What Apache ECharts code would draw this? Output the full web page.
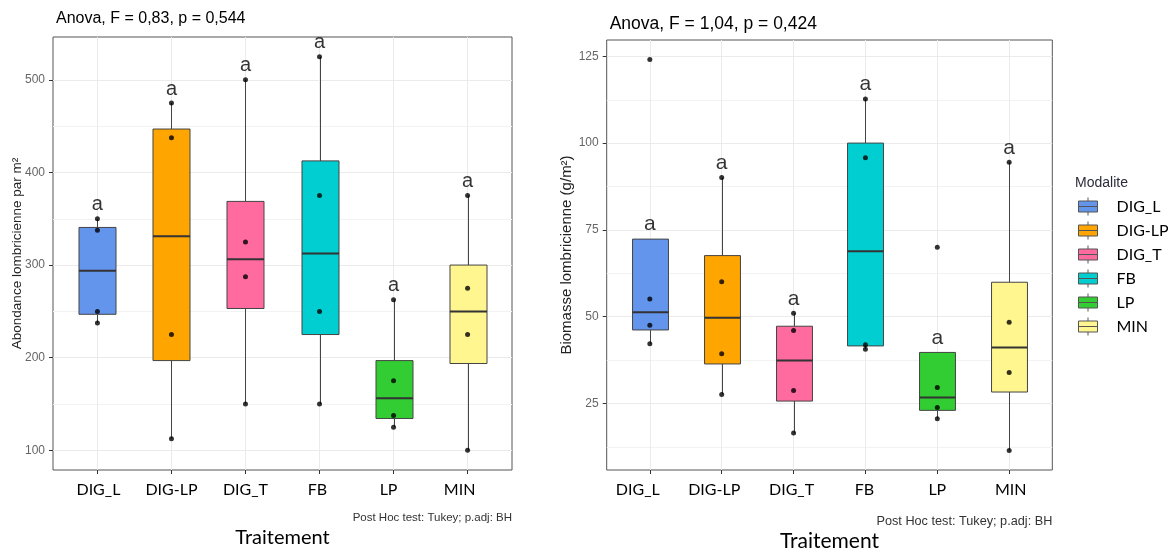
<!DOCTYPE html>
<html><head><meta charset="utf-8">
<script src="https://cdn.jsdelivr.net/npm/echarts@6/dist/echarts.min.js"></script>
<style>html,body{margin:0;padding:0;background:#fff}#c{width:1168px;height:548px}</style>
</head><body><div id="c"></div>
<script>
// ---------------- DATA ----------------
const categories = ['DIG_L', 'DIG-LP', 'DIG_T', 'FB', 'LP', 'MIN'];
const boxColors = ['#6495ED', '#FFA500', '#FF6A9F', '#00CED1', '#32CD32', '#FFF68F'];

const abondancePoints = [
  [350, 337.5, 250, 237.5],
  [475, 437.5, 225, 112.5],
  [500, 325, 287.5, 150],
  [525, 375, 250, 150],
  [262.5, 175, 137.5, 125],
  [375, 275, 225, 100]
];
const biomassePoints = [
  [124.1, 55.1, 47.5, 42.2],
  [90.1, 60.1, 39.3, 27.6],
  [51.0, 46.0, 28.75, 16.45],
  [112.7, 95.8, 41.9, 40.6],
  [70.0, 29.6, 23.8, 20.6],
  [94.5, 48.4, 33.9, 11.45]
];
const abondanceLetters = ['a', 'a', 'a', 'a', 'a', 'a'];
const biomasseLetters = ['a', 'a', 'a', 'a', 'a', 'a'];
const abondanceTicks = [100, 200, 300, 400, 500];
const biomasseTicks = [25, 50, 75, 100, 125];

const titles = ['Anova, F = 0,83, p = 0,544', 'Anova, F = 1,04, p = 0,424'];
const yNames = ['Abondance lombricienne par m²', 'Biomasse lombricienne (g/m²)'];
const xName = 'Traitement';
const caption = 'Post Hoc test: Tukey; p.adj: BH';
const legendTitle = 'Modalite';

// ---------------- STATS (ggplot-like) ----------------
function q7(s, p) {
  const h = (s.length - 1) * p, lo = Math.floor(h);
  const hi = Math.min(lo + 1, s.length - 1);
  return s[lo] + (h - lo) * (s[hi] - s[lo]);
}
function boxStats(vals) {
  const s = vals.slice().sort((a, b) => a - b);
  const q1 = q7(s, 0.25), med = q7(s, 0.5), q3 = q7(s, 0.75);
  const iqr = q3 - q1;
  const inside = s.filter(v => v >= q1 - 1.5 * iqr && v <= q3 + 1.5 * iqr);
  const lo = Math.min(q1, ...inside), hi = Math.max(q3, ...inside);
  return [lo, q1, med, q3, hi];
}
function expandRange(groups) {
  const all = groups.flat();
  const mn = Math.min(...all), mx = Math.max(...all), r = mx - mn;
  return [mn - 0.05 * r, mx + 0.05 * r];
}

// ---------------- LAYOUT ----------------
const panels = [
  { left: 53, top: 37, width: 459, height: 433, points: abondancePoints, letters: abondanceLetters,
    ticks: abondanceTicks, tickStep: 100, title: titles[0], yName: yNames[0],
    titleSize: 16, titleTop: 11, yNameSize: 13.5, yNameGap: 29, letterSize: 20,
    capSize: 11.5, capTop: 512, xNameSize: 20, xNameGap: 58, labelShift: [1, 0, 0, -2, -5, -8] },
  { left: 606.7, top: 40, width: 445.6, height: 430, points: biomassePoints, letters: biomasseLetters,
    ticks: biomasseTicks, tickStep: 25, title: titles[1], yName: yNames[1],
    titleSize: 17.5, titleTop: 15.5, yNameSize: 15, yNameGap: 32, letterSize: 21,
    capSize: 12.7, capTop: 515, xNameSize: 21, xNameGap: 61, labelShift: [-12, -7.5, -2, -1, 0, 1.6] }
];

const grid = [], xAxis = [], yAxis = [], series = [], title = [];
const SANS = 'Liberation Sans, Arial, sans-serif';
const CAL = 'Lato, sans-serif';

panels.forEach((P, pi) => {
  const unit = P.width / 6.2;
  const innerLeft = P.left + 0.6 * unit;
  const innerWidth = 5 * unit;
  const bw = unit * 0.5;
  const [ymin, ymax] = expandRange(P.points);
  const gOuter = pi * 2, gInner = pi * 2 + 1;

  grid.push({ left: P.left, top: P.top, width: P.width, height: P.height, show: true,
    borderColor: '#555', borderWidth: 1, backgroundColor: '#fff', containLabel: false,
    outerBoundsMode: 'none' });
  grid.push({ left: innerLeft, top: P.top, width: innerWidth, height: P.height, containLabel: false,
    outerBoundsMode: 'none' });

  xAxis.push({ gridIndex: gOuter, type: 'value', min: 0, max: 1, show: false });
  const rich = {};
  P.labelShift.forEach((d, i) => {
    rich['o' + i] = { fontFamily: CAL, fontSize: 16, color: '#000',
      padding: d < 0 ? [0, -2 * d, 0, 0] : [0, 0, 0, 2 * d] };
  });
  xAxis.push({ gridIndex: gInner, type: 'category', data: categories, boundaryGap: false,
    axisLine: { show: false },
    axisTick: { show: true, length: 4, lineStyle: { color: '#333' } },
    splitLine: { show: true, lineStyle: { color: '#ebebeb', width: 1 } },
    axisLabel: { margin: 12, formatter: (v, i) => '{o' + i + '|' + v + '}', rich: rich,
      fontFamily: CAL, fontSize: 16, color: '#000', interval: 0 },
    name: xName, nameLocation: 'middle', nameGap: P.xNameGap, nameMoveOverlap: false,
    nameTextStyle: { fontFamily: CAL, fontSize: P.xNameSize, color: '#000' } });

  yAxis.push({ gridIndex: gOuter, type: 'value', min: ymin, max: ymax,
    minInterval: P.tickStep, maxInterval: P.tickStep,
    axisLine: { show: false },
    axisTick: { show: true, length: 4, customValues: P.ticks, lineStyle: { color: '#333' } },
    axisLabel: { margin: 8, fontFamily: SANS, fontSize: 12, color: '#666', customValues: P.ticks,
      formatter: v => (P.ticks.some(t => Math.abs(t - v) < 1e-6) ? String(v) : '') },
    splitLine: { show: true, lineStyle: { color: '#ebebeb', width: 1 } },
    minorTick: { show: false, splitNumber: 2 },
    minorSplitLine: { show: true, lineStyle: { color: '#f2f2f2', width: 1 } },
    name: P.yName, nameLocation: 'middle', nameGap: P.yNameGap, nameMoveOverlap: false,
    nameTextStyle: { fontFamily: SANS, fontSize: P.yNameSize, color: '#222' } });
  yAxis.push({ gridIndex: gInner, type: 'value', min: ymin, max: ymax, show: false,
    splitLine: { show: false } });

  const stats = P.points.map(boxStats);

  categories.forEach((c, i) => {
    series.push({
      name: c, type: 'custom', xAxisIndex: gInner, yAxisIndex: gInner, z: 2,
      itemStyle: { color: boxColors[i] },
      data: [[i].concat(stats[i])],
      renderItem: (params, api) => {
        const x = api.value(0);
        const lo = api.coord([x, api.value(1)]);
        const q1 = api.coord([x, api.value(2)]);
        const md = api.coord([x, api.value(3)]);
        const q3 = api.coord([x, api.value(4)]);
        const hi = api.coord([x, api.value(5)]);
        const cx = Math.round(q1[0]) + 0.5;
        const h = bw / 2;
        return { type: 'group', children: [
          { type: 'line', shape: { x1: cx, y1: lo[1], x2: cx, y2: q1[1] }, style: { stroke: '#444', lineWidth: 1 } },
          { type: 'line', shape: { x1: cx, y1: q3[1], x2: cx, y2: hi[1] }, style: { stroke: '#444', lineWidth: 1 } },
          { type: 'rect', shape: { x: cx - h, y: q3[1], width: bw, height: q1[1] - q3[1] },
            style: { fill: api.visual('color'), stroke: '#444', lineWidth: 1 } },
          { type: 'line', shape: { x1: cx - h, y1: md[1], x2: cx + h, y2: md[1] }, style: { stroke: '#333', lineWidth: 2 } }
        ] };
      }
    });
  });

  const pts = [];
  P.points.forEach((g, i) => g.forEach(v => pts.push([i, v])));
  series.push({ type: 'scatter', name: 'pts' + pi, xAxisIndex: gInner, yAxisIndex: gInner, z: 4,
    symbolSize: 5, itemStyle: { color: '#000' }, data: pts, silent: true });

  series.push({ type: 'scatter', name: 'let' + pi, xAxisIndex: gInner, yAxisIndex: gInner, z: 5,
    symbolSize: 0, silent: true,
    data: stats.map((s, i) => [i, s[4]]),
    label: { show: true, position: 'top', distance: 4, fontFamily: SANS, fontSize: P.letterSize, color: '#000',
      formatter: p => P.letters[p.dataIndex] } });

  title.push({ text: P.title, left: P.left + 3, top: P.titleTop, padding: 0,
    textStyle: { fontFamily: SANS, fontSize: P.titleSize, fontWeight: 'normal', color: '#000' } });
  title.push({ text: caption, right: 1168 - (P.left + P.width), top: P.capTop, padding: 0,
    textStyle: { fontFamily: SANS, fontSize: P.capSize, fontWeight: 'normal', color: '#333' } });
});

title.push({ text: legendTitle, left: 1075, top: 176, padding: 0,
  textStyle: { fontFamily: SANS, fontSize: 14, fontWeight: 'normal', color: '#2b2b3b' } });

const keyIcon = 'path://M9.5,0L9.5,3.5M0,3.5L19,3.5L19,14.5L0,14.5ZM0,9L19,9M9.5,14.5L9.5,18';

const option = {
  animation: false,
  backgroundColor: '#fff',
  title: title,
  grid: grid,
  xAxis: xAxis,
  yAxis: yAxis,
  legend: {
    data: categories.map(c => ({ name: c, icon: keyIcon })),
    orient: 'vertical', left: 1078, top: 197, padding: 0,
    itemWidth: 19, itemHeight: 18, itemGap: 5, selectedMode: false,
    itemStyle: { borderColor: '#555', borderWidth: 1 },
    textStyle: { fontFamily: CAL, fontSize: 16, color: '#000', padding: [6, 0, 0, 14] }
  },
  series: series
};

const chart = echarts.init(document.getElementById('c'), null, { renderer: 'canvas' });
chart.setOption(option);
</script>
</body></html>
